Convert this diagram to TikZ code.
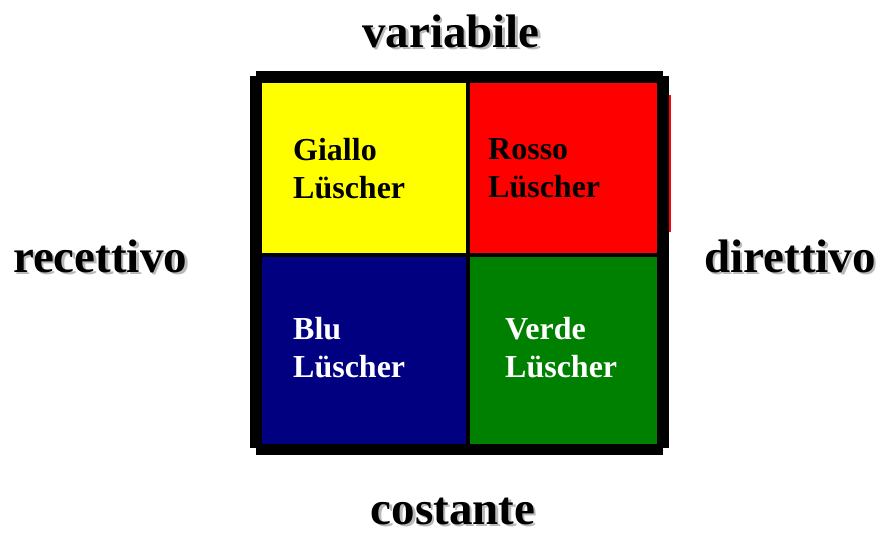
\documentclass[tikz,border=0pt]{standalone}
\usepackage{fontspec}
\setmainfont{Liberation Serif}
\usetikzlibrary{positioning}

\definecolor{puryellow}{RGB}{255,255,0}
\definecolor{purred}{RGB}{255,0,0}
\definecolor{navyblue}{RGB}{0,0,128}
\definecolor{darkgreen}{RGB}{0,128,0}

\begin{document}
\begin{tikzpicture}[x=1pt,y=-1pt,
  axis label/.style={font=\fontsize{47}{47}\selectfont\bfseries, inner sep=0pt, anchor=base},
  cell text/.style={font=\fontsize{32}{38}\selectfont\bfseries, inner sep=0pt, anchor=base west}]

  \useasboundingbox (0,0) rectangle (883,536);

  %frame
  \fill[black] (250,76) rectangle (669,448);
  \fill[black] (256,71) rectangle (663,455);
  \fill[purred] (669,95) rectangle (671,232);

  %quadrants
  \foreach \name/\col/\xa/\ya/\xb/\yb in {giallo/puryellow/262/83/466/253, rosso/purred/470/83/657/253,
        blu/navyblue/262/257/466/444, verde/darkgreen/470/257/657/444}{
    \fill[\col] (\xa,\ya) rectangle (\xb,\yb);
  }

  %quadrant names
  \foreach \name/\first/\col/\x/\y in {giallo/Giallo/black/293/160, rosso/Rosso/black/488/159,
        blu/Blu/white/293/339, verde/Verde/white/505/339}{
    \node[cell text, text=\col] (\name-1) at (\x,\y) {\first};
    \node[cell text, text=\col] (\name-2) at (\x,\y+38) {Lüscher};
  }

  %axis labels with shadow
  \foreach \name/\x/\y in {variabile/451/47, recettivo/100/272, direttivo/790/272, costante/453/524}{
    \node[axis label, text=gray!55] (\name-s) at (\x+2.5,\y+2.5) {\name};
    \node[axis label] (\name) at (\x,\y) {\name};
  }

\end{tikzpicture}
\end{document}
